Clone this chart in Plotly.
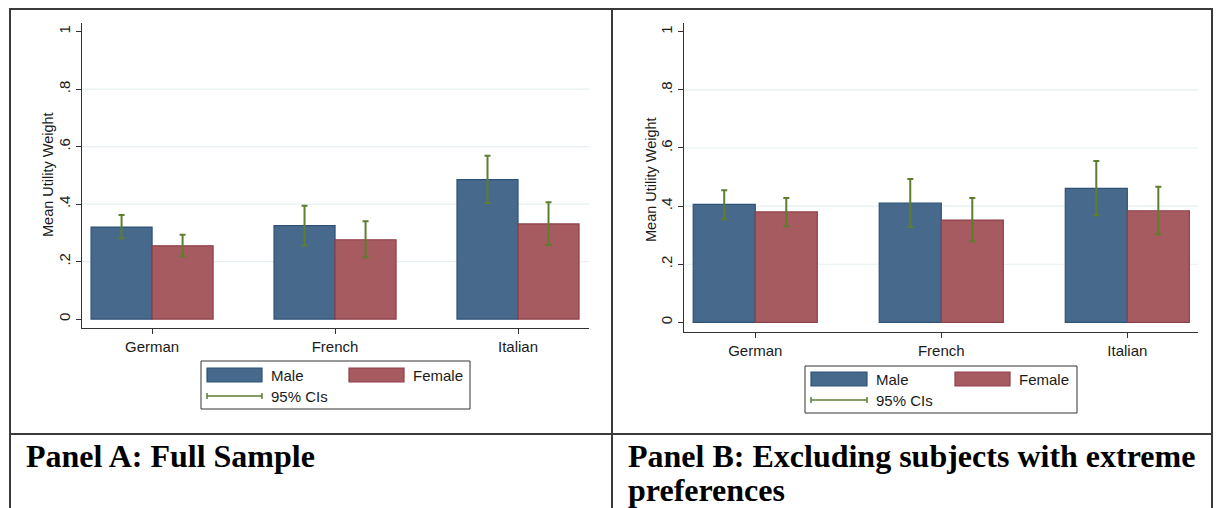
import plotly.graph_objects as go

# ---------------- data ----------------
categories = ["German", "French", "Italian"]

a_male = [0.320, 0.325, 0.485]
a_male_lo = [0.281, 0.255, 0.404]
a_male_hi = [0.362, 0.394, 0.568]
a_female = [0.255, 0.276, 0.331]
a_female_lo = [0.219, 0.215, 0.258]
a_female_hi = [0.293, 0.340, 0.406]

b_male = [0.406, 0.410, 0.461]
b_male_lo = [0.355, 0.328, 0.369]
b_male_hi = [0.455, 0.493, 0.555]
b_female = [0.380, 0.352, 0.384]
b_female_lo = [0.331, 0.279, 0.303]
b_female_hi = [0.428, 0.428, 0.467]

ytick_vals = [0, 0.2, 0.4, 0.6, 0.8, 1]
ytick_text = ["0", ".2", ".4", ".6", ".8", "1"]
grid_vals = [0.2, 0.4, 0.6, 0.8]

series_names = ["Male", "Female", "95% CIs"]
panel_titles = ["Panel A: Full Sample",
                "Panel B: Excluding subjects with extreme",
                "preferences"]
y_title = "Mean Utility Weight"

# ---------------- style ----------------
W, H = 1221, 508
OFF = 8  # page body margin in the browser
BLUE, BLUE_LINE = "#476a8c", "#2c5277"
RED, RED_LINE = "#a65b60", "#8f3f48"
CI = "#5d7d2f"
AXC = "#333333"
GRID = "#e6eff1"
TXT = "#1a1a1a"
FONT = "Liberation Sans, Arial, sans-serif"
FS = 15


def px(x):
    return (x - OFF) / W


def py(y):
    return 1 - (y - OFF) / H


fig = go.Figure()


def add_panel(idx, male, mlo, mhi, female, flo, fhi):
    xa = "x" if idx == 1 else "x2"
    ya = "y" if idx == 1 else "y2"
    for vals, lo, hi, col, lcol, name in [
        (male, mlo, mhi, BLUE, BLUE_LINE, "Male"),
        (female, flo, fhi, RED, RED_LINE, "Female"),
    ]:
        fig.add_trace(go.Bar(
            x=categories, y=vals, name=name, xaxis=xa, yaxis=ya,
            marker=dict(color=col, line=dict(color=lcol, width=1.2)),
            error_y=dict(type="data", symmetric=False,
                         array=[h - v for h, v in zip(hi, vals)],
                         arrayminus=[v - l for v, l in zip(vals, lo)],
                         color=CI, thickness=2, width=3),
            showlegend=False, hoverinfo="skip",
        ))


add_panel(1, a_male, a_male_lo, a_male_hi, a_female, a_female_lo, a_female_hi)
add_panel(2, b_male, b_male_lo, b_male_hi, b_female, b_female_lo, b_female_hi)

axis_common = dict(showline=True, linecolor=AXC, linewidth=1, ticks="outside",
                   ticklen=5, tickcolor=AXC, showgrid=False, zeroline=False,
                   tickfont=dict(family=FONT, size=FS, color=TXT))

fig.update_layout(
    width=W, height=H, margin=dict(l=0, r=0, t=0, b=0),
    paper_bgcolor="white", plot_bgcolor="white",
    barmode="group", bargap=0.333, bargroupgap=0,
    showlegend=False,
    xaxis=dict(domain=[px(82), px(589)], anchor="y", range=[-0.383, 2.388],
               **axis_common),
    yaxis=dict(domain=[py(328), py(22.7)], anchor="x", range=[-0.031, 1.031],
               tickvals=ytick_vals, ticktext=ytick_text, tickangle=-90,
               **axis_common),
    xaxis2=dict(domain=[px(684), px(1198)], anchor="y2", range=[-0.383, 2.38],
                **axis_common),
    yaxis2=dict(domain=[py(331.7), py(22.7)], anchor="x2", range=[-0.032, 1.031],
                tickvals=ytick_vals, ticktext=ytick_text, tickangle=-90,
                **axis_common),
)

shapes = []
# gridlines
for yr in ["y", "y2"]:
    xr = "x domain" if yr == "y" else "x2 domain"
    for g in grid_vals:
        shapes.append(dict(type="line", xref=xr, yref=yr, x0=0, x1=1, y0=g, y1=g,
                           line=dict(color=GRID, width=1.2), layer="below"))

# table borders
BC = "#3a3a3a"
RB = 1212
for x0, y0, x1, y1 in [(10, 9, RB, 9), (10, 8, 10, 508), (RB, 8, RB, 508),
                       (612, 8, 612, 508), (10, 434, RB, 434)]:
    shapes.append(dict(type="line", xref="paper", yref="paper",
                       x0=px(x0), y0=py(y0), x1=px(x1), y1=py(y1),
                       line=dict(color=BC, width=2)))

annotations = []


def legend(box, sw1, sw2, row1y, row2y, t1x, t2x):
    bx0, by0, bx1, by1 = box
    shapes.append(dict(type="rect", xref="paper", yref="paper",
                       x0=px(bx0), y0=py(by0), x1=px(bx1), y1=py(by1),
                       line=dict(color=AXC, width=1), fillcolor="white"))
    for (sx0, sx1), col, lcol in [(sw1, BLUE, BLUE_LINE), (sw2, RED, RED_LINE)]:
        shapes.append(dict(type="rect", xref="paper", yref="paper",
                           x0=px(sx0), x1=px(sx1), y0=py(row1y - 7), y1=py(row1y + 7),
                           fillcolor=col, line=dict(color=lcol, width=1.2)))
    # CI legend line with end caps
    shapes.append(dict(type="line", xref="paper", yref="paper",
                       x0=px(sw1[0]), x1=px(sw1[1]), y0=py(row2y), y1=py(row2y),
                       line=dict(color=CI, width=1.5)))
    for xx in sw1:
        shapes.append(dict(type="line", xref="paper", yref="paper",
                           x0=px(xx), x1=px(xx), y0=py(row2y - 3), y1=py(row2y + 3),
                           line=dict(color=CI, width=1.5)))
    for txt, tx, ty in [(series_names[0], t1x, row1y), (series_names[1], t2x, row1y),
                        (series_names[2], t1x, row2y)]:
        annotations.append(dict(text=txt, xref="paper", yref="paper", x=px(tx), y=py(ty),
                                xanchor="left", yanchor="middle", showarrow=False,
                                font=dict(family=FONT, size=FS, color=TXT)))


legend((201, 361, 470, 409), (207, 262), (349, 404), 375, 396, 269, 411)
legend((805, 366, 1077, 413), (811, 867), (955, 1010), 379, 400, 874, 1017)

# y axis titles
for xx, yy in [(48, 175), (651, 180)]:
    annotations.append(dict(text=y_title, xref="paper", yref="paper", x=px(xx), y=py(yy),
                            textangle=-90, showarrow=False, xanchor="center",
                            yanchor="middle",
                            font=dict(family=FONT, size=14.5, color=TXT)))

# panel captions
SERIF = "Liberation Serif, Times New Roman, serif"
for txt, xx, yy in [(panel_titles[0], 24, 456), (panel_titles[1], 626, 456),
                    (panel_titles[2], 626, 490)]:
    annotations.append(dict(text="<b>" + txt + "</b>", xref="paper", yref="paper",
                            x=px(xx), y=py(yy), xanchor="left", yanchor="middle",
                            showarrow=False,
                            font=dict(family=SERIF, size=32, color="#000000")))

fig.update_layout(shapes=shapes, annotations=annotations)
fig.write_html("out.html")
